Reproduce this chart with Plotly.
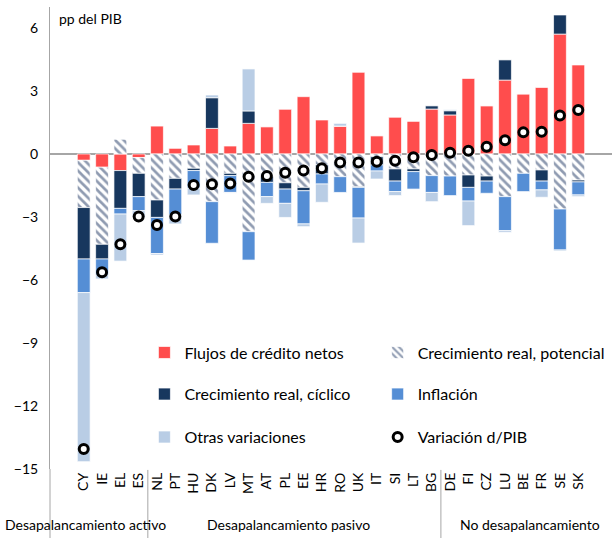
import plotly.graph_objects as go

countries = ["CY", "IE", "EL", "ES", "NL", "PT", "HU", "DK", "LV", "MT", "AT", "PL", "EE", "HR",
             "RO", "UK", "IT", "SI", "LT", "BG", "DE", "FI", "CZ", "LU", "BE", "FR", "SE", "SK"]

credit = [-0.30, -0.63, -0.79, -0.17, 1.33, 0.27, 0.43, 1.22, 0.38, 1.46, 1.29, 2.13, 2.73, 1.62,
          1.33, 3.89, 0.86, 1.75, 1.57, 2.14, 1.86, 3.60, 2.30, 3.52, 2.87, 3.17, 5.71, 4.24]
potential = [-2.25, -3.67, 0.70, -0.75, -2.19, -1.16, -0.68, -2.27, -0.92, -3.70, -1.08, -1.37, -1.59, -0.52,
             -1.08, -1.56, -0.13, -0.71, -0.71, -1.03, -1.05, -1.00, -1.05, -2.03, -0.92, -0.76, -2.62, -1.24]
cyclical = [-2.45, -0.70, -1.80, -1.11, -0.83, -0.51, -0.11, 1.46, -0.11, 0.59, -0.27, -0.30, -0.16, -0.43,
            0.00, -0.03, -0.39, -0.58, -0.13, 0.15, 0.20, -0.59, -0.24, 0.96, 0.00, -0.53, 0.91, -0.09]
inflation = [-1.60, -0.76, -0.27, -0.67, -1.72, -1.23, -0.84, -1.98, -0.80, -1.35, -0.68, -0.68, -1.58, -0.48,
             -0.75, -1.46, -0.29, -0.50, -0.83, -0.80, -0.93, -0.65, -0.58, -1.62, -0.87, -0.42, -1.95, -0.62]
other = [-8.05, -0.19, -2.24, -0.32, -0.07, -0.43, -0.32, 0.13, -0.03, 2.00, -0.32, -0.67, -0.13, -0.87,
         0.13, -1.19, -0.38, -0.19, 0.00, -0.44, 0.05, -1.17, 0.00, -0.08, 0.00, -0.35, -0.05, -0.08]
change_gdp = [-14.05, -5.63, -4.30, -2.98, -3.38, -2.98, -1.48, -1.44, -1.40, -1.08, -1.05, -0.89, -0.79, -0.68,
              -0.41, -0.40, -0.37, -0.32, -0.16, -0.05, 0.06, 0.16, 0.35, 0.65, 1.03, 1.06, 1.83, 2.10]

groups = ["Desapalancamiento activo", "Desapalancamiento pasivo", "No desapalancamiento"]

FONT = "Lato, sans-serif"
edge = dict(color="rgba(255,255,255,0.7)", width=1)

fig = go.Figure()
fig.add_trace(go.Bar(x=countries, y=credit, name="Flujos de crédito netos",
                     marker=dict(color="#FF4D4D", line=edge), legend="legend"))
fig.add_trace(go.Bar(x=countries, y=potential, name="Crecimiento real, potencial",
                     marker=dict(color="white", line=edge,
                                 pattern=dict(shape="\\", fgcolor="#1F3864", bgcolor="white",
                                              size=6, solidity=0.45)),
                     legend="legend2"))
fig.add_trace(go.Bar(x=countries, y=cyclical, name="Crecimiento real, cíclico",
                     marker=dict(color="#17375E", line=edge), legend="legend3"))
fig.add_trace(go.Bar(x=countries, y=inflation, name="Inflación",
                     marker=dict(color="#558ED5", line=edge), legend="legend4"))
fig.add_trace(go.Bar(x=countries, y=other, name="Otras variaciones",
                     marker=dict(color="#B9CDE5", line=edge), legend="legend5"))
fig.add_trace(go.Scatter(x=countries, y=change_gdp, name="Variación d/PIB", mode="markers",
                         marker=dict(color="white", size=9, line=dict(color="black", width=3)),
                         legend="legend6"))

leg = dict(xanchor="left", yanchor="middle", bgcolor="rgba(0,0,0,0)",
           font=dict(family=FONT, size=16, color="black"))
col_x = [0.168, 0.583]
row_y = [0.252, 0.162, 0.069]

fig.update_layout(
    width=614, height=538,
    margin=dict(l=50, r=2, t=7, b=69, autoexpand=False),
    barmode="relative", bargap=0.3,
    plot_bgcolor="white", paper_bgcolor="white",
    font=dict(family=FONT, color="black"),
    showlegend=True,
    legend=dict(leg, x=col_x[0], y=row_y[0]),
    legend2=dict(leg, x=col_x[1], y=row_y[0]),
    legend3=dict(leg, x=col_x[0], y=row_y[1]),
    legend4=dict(leg, x=col_x[1], y=row_y[1]),
    legend5=dict(leg, x=col_x[0], y=row_y[2]),
    legend6=dict(leg, x=col_x[1], y=row_y[2]),
    xaxis=dict(type="category", tickangle=-90, showline=False, showgrid=False,
               tickmode="array", tickvals=countries, ticktext=countries,
               ticks="", tickfont=dict(size=14)),
    yaxis=dict(range=[-15, 7], tickvals=[-15, -12, -9, -6, -3, 0, 3, 6], showgrid=False,
               showline=True, linecolor="#A6A6A6", linewidth=1, ticks="",
               zeroline=True, zerolinecolor="#A6A6A6", zerolinewidth=2,
               tickfont=dict(size=14), ticklabelstandoff=8),
)

# y axis continues down through the label area, plus group separators
fig.add_shape(type="line", xref="paper", yref="paper", x0=0, x1=0, y0=0, y1=-0.15,
              line=dict(color="#A6A6A6", width=1))
for sep in [3.5, 19.5]:
    fig.add_shape(type="line", xref="x", yref="paper", x0=sep, x1=sep, y0=-0.002, y1=-0.15,
                  line=dict(color="#A6A6A6", width=1))

for label, xpos in zip(groups, [0.064, 0.425, 0.854]):
    fig.add_annotation(text=label, xref="paper", yref="paper", x=xpos, y=-0.121,
                       showarrow=False, font=dict(size=14), xanchor="center", yanchor="middle")

fig.add_annotation(text="pp del PIB", xref="paper", yref="paper", x=0.012, y=0.976,
                   showarrow=False, font=dict(size=14), xanchor="left", yanchor="middle")

fig.write_html("out.html", config={"displayModeBar": False},
               post_script="document.body.style.margin='0';")
